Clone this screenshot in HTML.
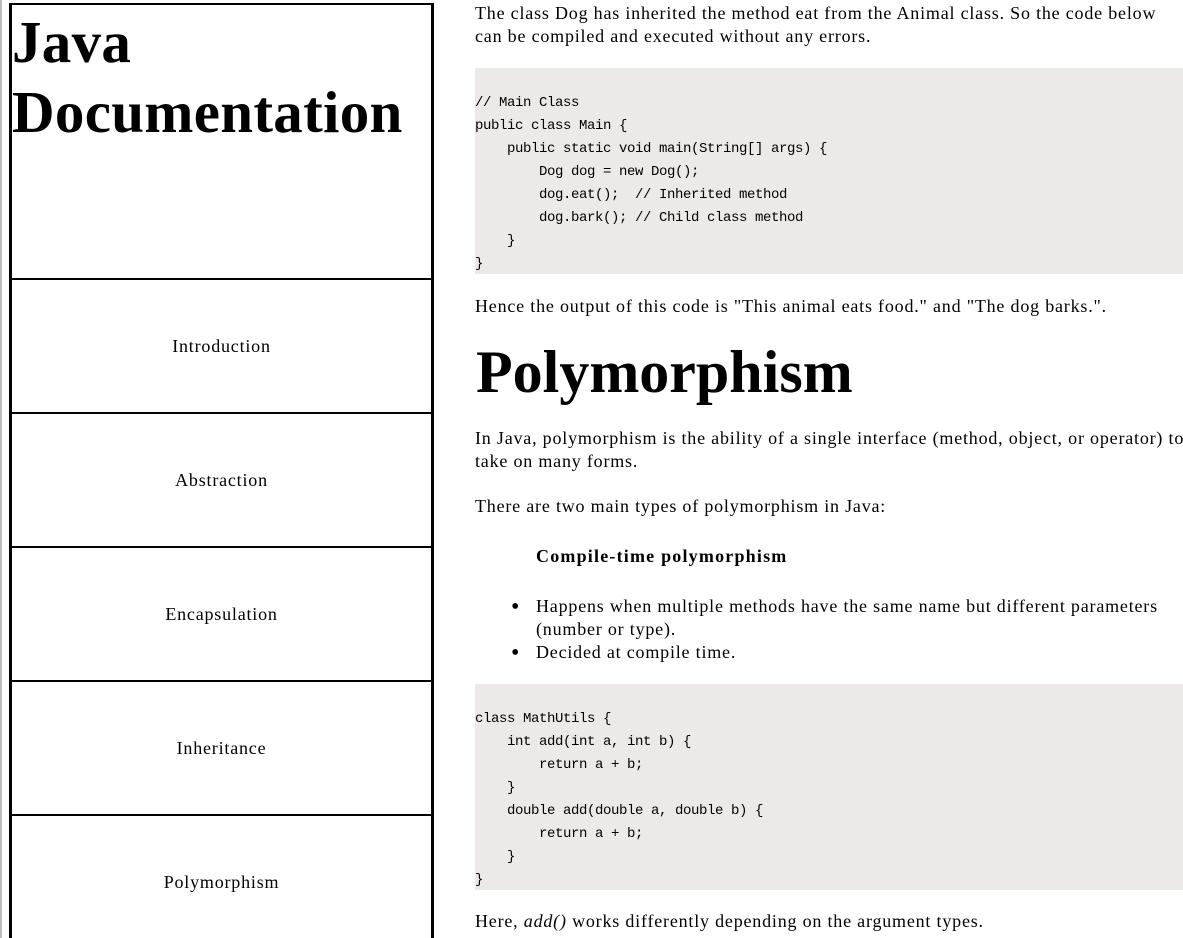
<!DOCTYPE html>
<html><head><meta charset="utf-8"><style>
*{margin:0;padding:0;box-sizing:border-box}
html,body{width:1183px;height:938px;overflow:hidden;background:#fff}
body{position:relative;font-family:"Liberation Serif",serif;font-size:18px;color:#000;letter-spacing:0.8px}
.a{position:absolute;white-space:nowrap;line-height:23px}
#nav{position:absolute;left:9px;top:3px;width:425px;height:960px;border-left:3px solid #000;border-right:3px solid #000;border-top:2px solid #000}
#title{height:275px;border-bottom:2px solid #000;font-weight:bold;font-size:59px;line-height:70px;padding:2px 0 0 0;letter-spacing:0.3px}
.it{height:134px;border-bottom:2px solid #000;display:flex;align-items:center;justify-content:center;font-size:18px}
.code{position:absolute;left:475px;width:708px;background:#ede9e8;font-family:"Liberation Mono",monospace;font-size:14px;letter-spacing:-0.4px;line-height:23px;white-space:pre;padding-top:24px}
h1{position:absolute;left:476px;top:334px;font-size:60px;line-height:76px;font-weight:bold;letter-spacing:0}
.b{position:absolute;left:511px;font-size:24px;line-height:23px}
</style></head><body>
<div style="position:absolute;left:0;top:0;width:2px;height:938px;background:#bbb"></div>
<div id="nav">
<div id="title">Java<br>Documentation</div>
<div class="it" style="height:134px">Introduction</div>
<div class="it">Abstraction</div>
<div class="it">Encapsulation</div>
<div class="it">Inheritance</div>
<div class="it">Polymorphism</div>
</div>
<div class="a" style="left:475px;top:2px">The class Dog has inherited the method eat from the Animal class. So the code below</div>
<div class="a" style="left:475px;top:25px">can be compiled and executed without any errors.</div>
<div class="code" style="top:68px;height:206px">// Main Class
public class Main {
    public static void main(String[] args) {
        Dog dog = new Dog();
        dog.eat();  // Inherited method
        dog.bark(); // Child class method
    }
}</div>
<div class="a" style="left:475px;top:295px">Hence the output of this code is "This animal eats food." and "The dog barks.".</div>
<h1>Polymorphism</h1>
<div class="a" style="left:475px;top:427px">In Java, polymorphism is the ability of a single interface (method, object, or operator) to</div>
<div class="a" style="left:475px;top:450px">take on many forms.</div>
<div class="a" style="left:475px;top:495px">There are two main types of polymorphism in Java:</div>
<div class="a" style="left:536px;top:545px;font-weight:bold;letter-spacing:1.2px">Compile-time polymorphism</div>
<div class="b" style="top:596px">•</div>
<div class="a" style="left:536px;top:595px">Happens when multiple methods have the same name but different parameters</div>
<div class="a" style="left:536px;top:618px">(number or type).</div>
<div class="b" style="top:642px">•</div>
<div class="a" style="left:536px;top:641px">Decided at compile time.</div>
<div class="code" style="top:684px;height:206px">class MathUtils {
    int add(int a, int b) {
        return a + b;
    }
    double add(double a, double b) {
        return a + b;
    }
}</div>
<div class="a" style="left:475px;top:910px">Here, <i>add()</i> works differently depending on the argument types.</div>
</body></html>
